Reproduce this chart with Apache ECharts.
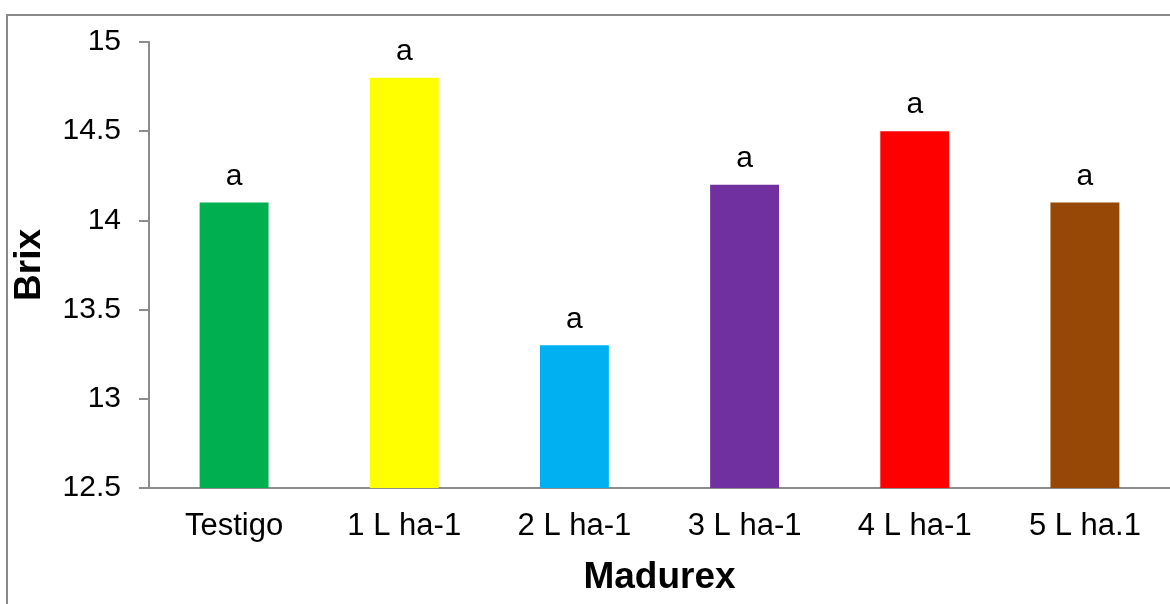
<!DOCTYPE html>
<html>
<head>
<meta charset="utf-8">
<script src="https://cdn.jsdelivr.net/npm/echarts@6/dist/echarts.min.js"></script>
<style>
html,body{margin:0;padding:0;background:#fff;}
#chart{width:1170px;height:604px;}
</style>
</head>
<body>
<div id="chart"></div>
<script>
var categories = ['Testigo', '1 L ha-1', '2 L ha-1', '3 L ha-1', '4 L ha-1', '5 L ha.1'];
var brixValues = [14.1, 14.8, 13.3, 14.2, 14.5, 14.1];
var letters = ['a', 'a', 'a', 'a', 'a', 'a'];
var barColors = ['#00B050', '#FFFF00', '#00B0F0', '#7030A0', '#FF0000', '#974706'];
var yTicks = { min: 12.5, max: 15, interval: 0.5 };

var FONT = 'Liberation Sans, Arial, sans-serif';
var chart = echarts.init(document.getElementById('chart'), null, { renderer: 'canvas' });

var data = brixValues.map(function (v, i) {
  return { value: v, itemStyle: { color: barColors[i] }, label: { formatter: letters[i] } };
});

chart.setOption({
  backgroundColor: '#ffffff',
  animation: false,
  grid: { left: 149, top: 42, bottom: 116, right: -4, containLabel: false },
  graphic: [
    { type: 'polyline', shape: { points: [[7, 620], [7, 15], [1180, 15]] },
      style: { stroke: '#8a8a8a', lineWidth: 2, fill: null }, silent: true }
  ],
  xAxis: {
    type: 'category',
    data: categories,
    name: 'Madurex',
    nameLocation: 'middle',
    nameGap: 71,
    nameTextStyle: { fontFamily: FONT, fontSize: 37, fontWeight: 'bold', color: '#000' },
    axisLine: { lineStyle: { color: '#8c8c8c', width: 2 } },
    axisTick: { show: false },
    axisLabel: { fontFamily: FONT, fontSize: 31, color: '#000', margin: 23, interval: 0 },
    splitLine: { show: false }
  },
  yAxis: {
    type: 'value',
    min: yTicks.min,
    max: yTicks.max,
    interval: yTicks.interval,
    name: 'Brix',
    nameLocation: 'middle',
    nameGap: 101,
    nameTextStyle: { fontFamily: FONT, fontSize: 37, fontWeight: 'bold', color: '#000' },
    axisLine: { show: true, lineStyle: { color: '#8c8c8c', width: 2 } },
    axisTick: { show: true, inside: false, length: 10, lineStyle: { color: '#8c8c8c', width: 2 } },
    axisLabel: { fontFamily: FONT, fontSize: 30, color: '#000', margin: 28 },
    splitLine: { show: false }
  },
  series: [{
    type: 'bar',
    data: data,
    barWidth: '40.5%',
    label: { show: true, position: 'top', distance: 11, fontFamily: FONT, fontSize: 30, color: '#000' }
  }]
});
</script>
</body>
</html>
